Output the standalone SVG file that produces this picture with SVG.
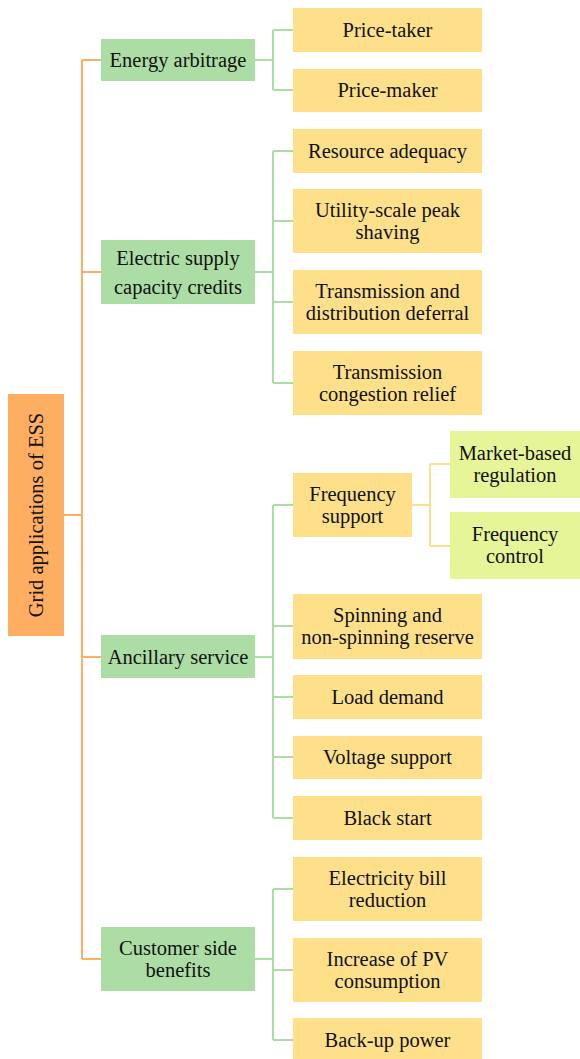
<svg xmlns="http://www.w3.org/2000/svg" width="580" height="1059" viewBox="0 0 580 1059">
<style>
.t{font-family:'Liberation Serif','Times New Roman',serif;font-size:20.5px;fill:#111;text-anchor:middle}
.root{fill:#FDAE61}
.l1{fill:#ABDDA4}
.l2{fill:#FEE08B}
.l3{fill:#E6F598}
.co{fill:none;stroke:#FDAE61;stroke-width:2}
.cg{fill:none;stroke:#ABDDA4;stroke-width:2}
.cy{fill:none;stroke:#FEE08B;stroke-width:2}
</style>
<rect width="580" height="1059" fill="#fff"/>
<g id="connectors">
<path class="co" d="M64,515H82M82,60V959M82,60H101M82,272H101M82,657H101M82,959H101"/>
<path class="cg" d="M255,60H273M273,30V90M273,30H293M273,90H293"/>
<path class="cg" d="M255,272H273M273,151V383M273,151H293M273,221H293M273,302H293M273,383H293"/>
<path class="cg" d="M255,657H273M273,505V818M273,505H293M273,626H293M273,697H293M273,757H293M273,818H293"/>
<path class="cg" d="M255,959H273M273,889V1040M273,889H293M273,970H293M273,1040H293"/>
<path class="cy" d="M412,505H430M430,464V546M430,464H450M430,546H450"/>
</g>
<g class="t">
<g id="root"><rect class="root" x="8" y="394" width="56" height="242"/><text transform="translate(43,515) rotate(-90)">Grid applications of ESS</text></g>
<g id="energy-arbitrage"><rect class="l1" x="101" y="39" width="154" height="42"/><text x="178" y="67">Energy arbitrage</text></g>
<g id="electric-supply"><rect class="l1" x="101" y="240" width="154" height="64"/><text x="178" y="265">Electric supply</text><text x="178" y="294">capacity credits</text></g>
<g id="ancillary"><rect class="l1" x="101" y="635" width="154" height="43"/><text x="178" y="664">Ancillary service</text></g>
<g id="customer"><rect class="l1" x="101" y="927" width="154" height="64"/><text x="178" y="955">Customer side</text><text x="178" y="977">benefits</text></g>
<g id="price-taker"><rect class="l2" x="293" y="8" width="189" height="44"/><text x="387.5" y="37">Price-taker</text></g>
<g id="price-maker"><rect class="l2" x="293" y="69" width="189" height="43"/><text x="387.5" y="97">Price-maker</text></g>
<g id="resource-adequacy"><rect class="l2" x="293" y="129" width="189" height="44"/><text x="387.5" y="158">Resource adequacy</text></g>
<g id="peak-shaving"><rect class="l2" x="293" y="189" width="189" height="64"/><text x="387.5" y="217">Utility-scale peak</text><text x="387.5" y="239">shaving</text></g>
<g id="td-deferral"><rect class="l2" x="293" y="270" width="189" height="64"/><text x="387.5" y="298">Transmission and</text><text x="387.5" y="320">distribution deferral</text></g>
<g id="congestion"><rect class="l2" x="293" y="351" width="189" height="64"/><text x="387.5" y="379">Transmission</text><text x="387.5" y="401">congestion relief</text></g>
<g id="frequency-support"><rect class="l2" x="293" y="473" width="119" height="64"/><text x="352.5" y="501">Frequency</text><text x="352.5" y="523">support</text></g>
<g id="market-regulation"><rect class="l3" x="450" y="431" width="130" height="67"/><text x="515" y="460">Market-based</text><text x="515" y="482">regulation</text></g>
<g id="frequency-control"><rect class="l3" x="450" y="512" width="130" height="67"/><text x="515" y="541">Frequency</text><text x="515" y="563">control</text></g>
<g id="reserve"><rect class="l2" x="293" y="594" width="189" height="65"/><text x="387.5" y="622">Spinning and</text><text x="387.5" y="644">non-spinning reserve</text></g>
<g id="load-demand"><rect class="l2" x="293" y="675" width="189" height="44"/><text x="387.5" y="704">Load demand</text></g>
<g id="voltage-support"><rect class="l2" x="293" y="736" width="189" height="43"/><text x="387.5" y="764">Voltage support</text></g>
<g id="black-start"><rect class="l2" x="293" y="796" width="189" height="44"/><text x="387.5" y="825">Black start</text></g>
<g id="bill-reduction"><rect class="l2" x="293" y="857" width="189" height="64"/><text x="387.5" y="885">Electricity bill</text><text x="387.5" y="907">reduction</text></g>
<g id="pv-consumption"><rect class="l2" x="293" y="938" width="189" height="64"/><text x="387.5" y="966">Increase of PV</text><text x="387.5" y="988">consumption</text></g>
<g id="backup-power"><rect class="l2" x="293" y="1018" width="189" height="44"/><text x="387.5" y="1047">Back-up power</text></g>
</g>
</svg>
